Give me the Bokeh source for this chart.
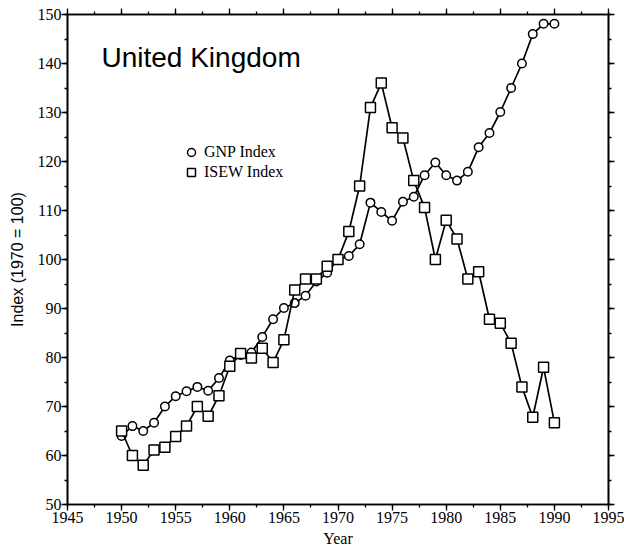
from bokeh.plotting import figure
from bokeh.models import (Range1d, LinearAxis, SingleIntervalTicker, Legend, LegendItem, Label)
from bokeh.embed import file_html
from bokeh.resources import INLINE

years = [1950, 1951, 1952, 1953, 1954, 1955, 1956, 1957, 1958, 1959,
         1960, 1961, 1962, 1963, 1964, 1965, 1966, 1967, 1968, 1969,
         1970, 1971, 1972, 1973, 1974, 1975, 1976, 1977, 1978, 1979,
         1980, 1981, 1982, 1983, 1984, 1985, 1986, 1987, 1988, 1989, 1990]
gnp = [64, 66, 65, 66.7, 70, 72.1, 73.1, 74, 73.2, 75.8,
       79.4, 80.5, 81, 84.2, 87.8, 90.1, 91.1, 92.6, 95.5, 97.3,
       100, 100.7, 103.1, 111.6, 109.7, 107.9, 111.8, 112.8, 117.2, 119.8,
       117.2, 116.1, 117.9, 122.9, 125.8, 130.1, 135, 140, 146, 148.1, 148.1]
isew = [65, 60, 58, 61.1, 61.7, 63.9, 66, 70, 68, 72.2,
        78.2, 80.8, 79.9, 81.9, 79, 83.6, 93.8, 96, 96, 98.6,
        100, 105.7, 115, 131, 136, 126.9, 124.8, 116.1, 110.6, 100,
        108, 104.2, 96, 97.5, 87.8, 87, 82.9, 74, 67.8, 78, 66.7]
x_ticks = [1945, 1950, 1955, 1960, 1965, 1970, 1975, 1980, 1985, 1990, 1995]
y_ticks = [50, 60, 70, 80, 90, 100, 110, 120, 130, 140, 150]
title_text = "United Kingdom"
gnp_label = "GNP Index"
isew_label = "ISEW Index"
x_label = "Year"
y_label = "Index (1970 = 100)"

SERIF = "Liberation Serif"
SANS = "Liberation Sans"

p = figure(width=624, height=552, output_backend="svg", toolbar_location=None,
           x_range=Range1d(x_ticks[0], x_ticks[-1]), y_range=Range1d(y_ticks[0], y_ticks[-1]),
           min_border_left=67, min_border_right=16, min_border_top=14, min_border_bottom=48,
           x_axis_location=None, y_axis_location=None)
p.xgrid.visible = False
p.ygrid.visible = False
p.outline_line_color = "black"
p.outline_line_width = 1.6
p.background_fill_color = "white"
p.border_fill_color = "white"


def style_axis(ax, show_labels, ticks, tick_out=6):
    ax.axis_line_color = "black"
    ax.axis_line_width = 1.6
    ax.major_tick_line_color = "black"
    ax.minor_tick_line_color = "black"
    ax.major_tick_line_width = 1.3
    ax.minor_tick_line_width = 1.3
    ax.major_tick_in = 0
    ax.major_tick_out = tick_out
    ax.minor_tick_in = 0
    ax.minor_tick_out = 3
    ax.major_label_text_font = SERIF
    ax.major_label_text_color = "black"
    if show_labels:
        ax.major_label_text_font_size = "16px"
    else:
        ax.major_label_text_font_size = "1px"
        ax.major_label_overrides = {t: "" for t in ticks}
        ax.major_label_standoff = 0


xb = LinearAxis(ticker=SingleIntervalTicker(interval=5, num_minor_ticks=2))
style_axis(xb, True, x_ticks)
xb.major_label_standoff = 1
xb.axis_label = x_label
xb.axis_label_text_font = SERIF
xb.axis_label_text_font_size = "16px"
xb.axis_label_text_font_style = "normal"
xb.axis_label_text_color = "black"
xb.axis_label_standoff = 4
p.add_layout(xb, "below")

xt = LinearAxis(ticker=SingleIntervalTicker(interval=5, num_minor_ticks=2))
style_axis(xt, False, x_ticks)
p.add_layout(xt, "above")

yl = LinearAxis(ticker=SingleIntervalTicker(interval=10, num_minor_ticks=2))
style_axis(yl, True, y_ticks)
yl.major_label_standoff = 0
yl.axis_label = y_label
yl.axis_label_text_font = SANS
yl.axis_label_text_font_size = "16px"
yl.axis_label_text_font_style = "normal"
yl.axis_label_text_color = "black"
yl.axis_label_standoff = 9
p.add_layout(yl, "left")

yr = LinearAxis(ticker=SingleIntervalTicker(interval=10, num_minor_ticks=2))
style_axis(yr, False, y_ticks)
p.add_layout(yr, "right")

p.line(years, gnp, line_color="black", line_width=1.7)
r_gnp = p.scatter(years, gnp, marker="circle", size=8.5, fill_color="white",
                  line_color="black", line_width=1.5)
p.line(years, isew, line_color="black", line_width=1.7)
r_isew = p.scatter(years, isew, marker="square", size=10, fill_color="white",
                   line_color="black", line_width=1.5)

legend = Legend(items=[LegendItem(label=gnp_label, renderers=[r_gnp]),
                       LegendItem(label=isew_label, renderers=[r_isew])],
                location=(114, 322), glyph_width=20, glyph_height=20,
                label_height=20, label_standoff=3, padding=0, spacing=0, margin=0,
                border_line_color=None, background_fill_alpha=0,
                label_text_font=SERIF, label_text_font_size="16px",
                label_text_color="black")
p.add_layout(legend, "center")

p.add_layout(Label(x=1948.14, y=141.22, text=title_text, text_font=SANS,
                   text_font_size="28px", text_color="black",
                   text_baseline="alphabetic", text_align="left"))

open("out.html", "w").write(file_html(p, INLINE))
